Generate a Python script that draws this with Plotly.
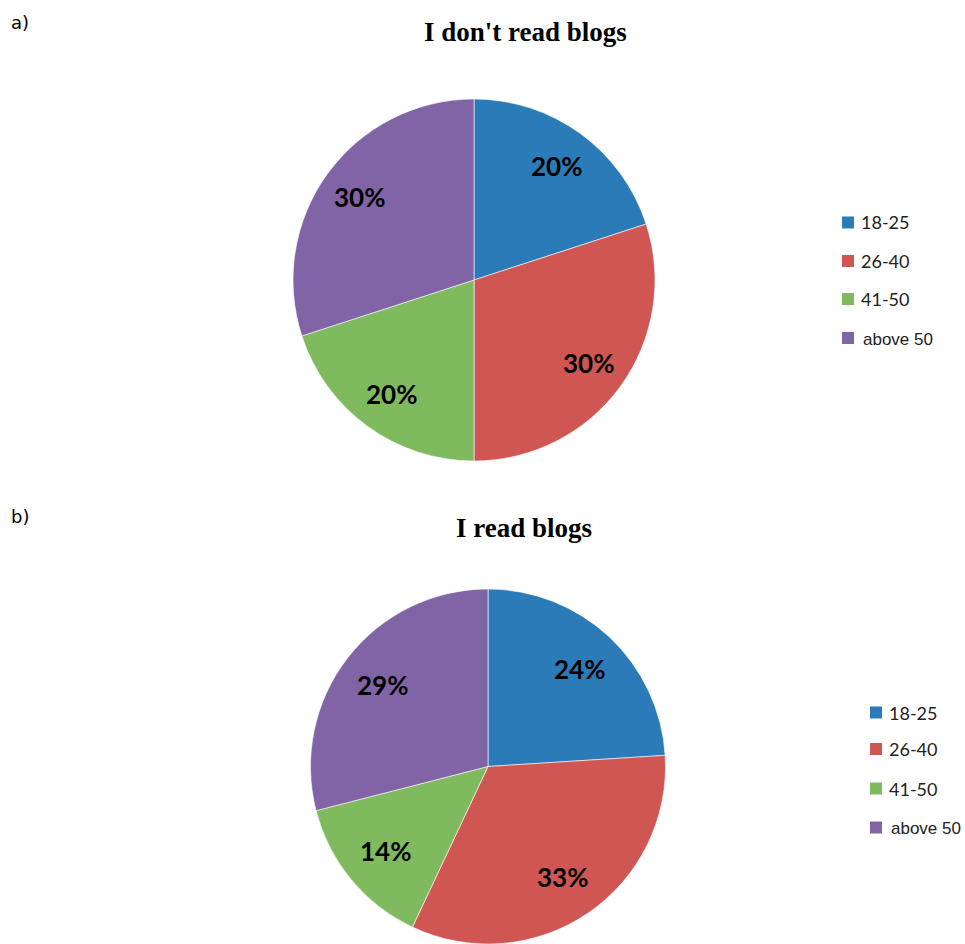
import math
import plotly.graph_objects as go

W, H = 965, 944

# Age groups and shares for the two survey groups
age_groups = ["18-25", "26-40", "41-50", "above 50"]
no_blog_share = [20, 30, 20, 30]
blog_share = [24, 33, 14, 29]
slice_colors = ["#2B7BB9", "#D05654", "#7FBA5F", "#8064A5"]

title_a = "I don't read blogs"
title_b = "I read blogs"


def px_x(x):
    return x / W


def px_y(y):
    return 1 - y / H


fig = go.Figure()

pie_common = dict(
    labels=age_groups,
    sort=False,
    direction="clockwise",
    rotation=0,
    textinfo="none",
    marker=dict(colors=slice_colors, line=dict(color="white", width=0.6)),
    showlegend=False,
    hoverinfo="label+percent",
)

# pixel boxes of the two pies (left, right, top, bottom)
pie_boxes = [(293, 655, 99, 461), (309, 667, 589, 944)]

fig.add_trace(go.Pie(
    values=no_blog_share,
    domain=dict(x=[px_x(293), px_x(655)], y=[px_y(461), px_y(99)]),
    **pie_common,
))
fig.add_trace(go.Pie(
    values=blog_share,
    domain=dict(x=[px_x(309), px_x(667)], y=[0, px_y(589)]),
    **pie_common,
))

annotations = [
    dict(text="a)", x=px_x(9), y=px_y(22), font=dict(family="DejaVu Sans", size=18, color="black")),
    dict(text="b)", x=px_x(9), y=px_y(516), font=dict(family="DejaVu Sans", size=18, color="black")),
]
for a in annotations:
    a.update(xref="paper", yref="paper", xanchor="left", yanchor="middle", showarrow=False)

for text, cx, cy in [(title_a, 525, 32), (title_b, 524, 528)]:
    annotations.append(dict(
        text=f"<b>{text}</b>", x=px_x(cx), y=px_y(cy), xref="paper", yref="paper",
        xanchor="center", yanchor="middle", showarrow=False,
        font=dict(family="Liberation Serif", size=27, color="black"),
    ))

# Percentage labels placed along each slice's mid-angle, out toward the rim
label_radius = [0.78, 0.75]
for shares, (l, r, t, b), k in zip([no_blog_share, blog_share], pie_boxes, label_radius):
    side = min(r - l, b - t)
    rad = side / 2
    cx, cy = (l + r) / 2, (t + b) / 2
    total = sum(shares)
    cum = 0
    for v in shares:
        mid = (cum + v / 2) / total * 2 * math.pi
        cum += v
        lx = cx + k * rad * math.sin(mid)
        ly = cy - k * rad * math.cos(mid)
        annotations.append(dict(
            text=f"<b>{v}%</b>", x=px_x(lx), y=px_y(ly), xref="paper", yref="paper",
            xanchor="center", yanchor="middle", showarrow=False,
            font=dict(family="Lato", size=26, color="black"),
        ))

# Hand-placed legends beside each pie
shapes = []
legend_rows = [
    (842, 859, [222.5, 261, 299, 338]),
    (870, 887, [712.5, 749, 788.5, 827.5]),
]
for sq_x, txt_x, rows in legend_rows:
    for label, color, cy in zip(age_groups, slice_colors, rows):
        shapes.append(dict(
            type="rect", xref="paper", yref="paper",
            x0=px_x(sq_x), x1=px_x(sq_x + 12), y0=px_y(cy + 6), y1=px_y(cy - 6),
            fillcolor=color, line=dict(width=0),
        ))
        is_last = label == "above 50"
        annotations.append(dict(
            text=label, x=px_x(txt_x + (2 if is_last else 0)), y=px_y(cy + (1 if is_last else 0)),
            xref="paper", yref="paper", xanchor="left", yanchor="middle", showarrow=False,
            font=dict(family="Liberation Sans" if is_last else "Lato",
                      size=17 if is_last else 18, color="#222222"),
        ))

fig.update_layout(
    width=W, height=H,
    margin=dict(l=0, r=0, t=0, b=0),
    paper_bgcolor="white",
    plot_bgcolor="white",
    annotations=annotations,
    shapes=shapes,
)

fig.write_html("out.html")
